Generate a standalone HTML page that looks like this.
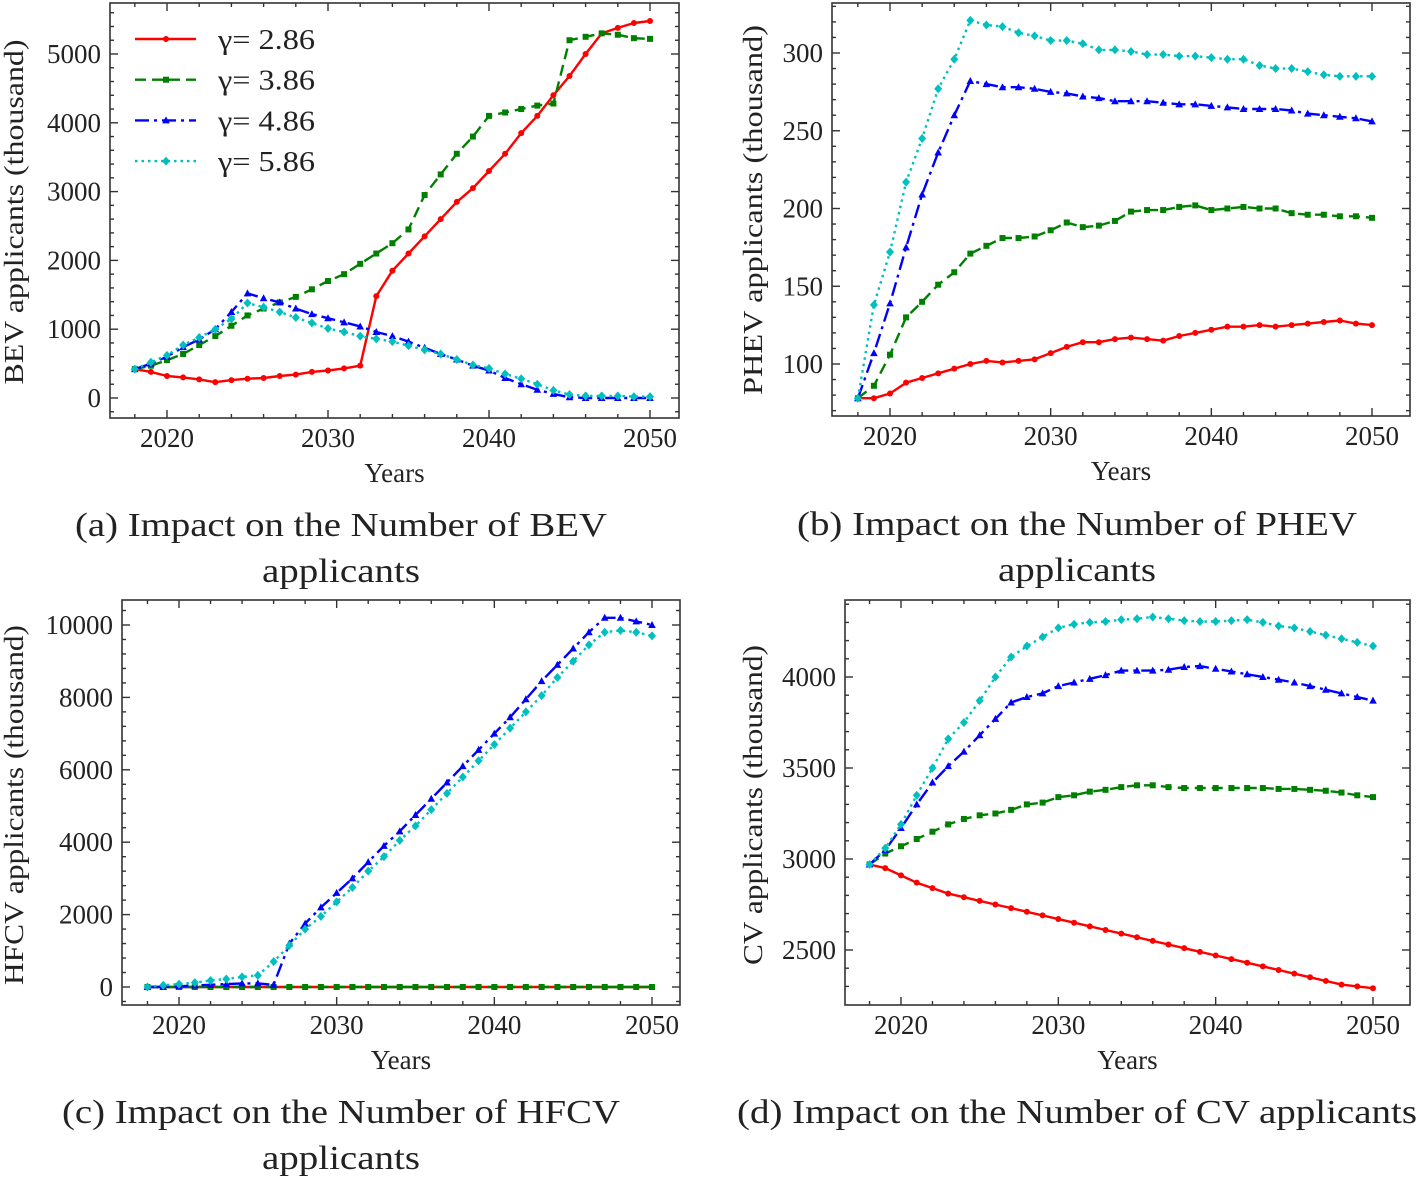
<!DOCTYPE html>
<html><head><meta charset="utf-8"><style>
html,body{margin:0;padding:0;background:#fff;}
svg text{font-family:"Liberation Serif",serif;fill:#222;}
</style></head><body>
<svg id="fig" width="1417" height="1177" viewBox="0 0 1417 1177" xmlns="http://www.w3.org/2000/svg"></svg>
<script>
const years = [];
for (let y = 2018; y <= 2050; y++) years.push(y);
const seriesLabels = ["γ= 2.86","γ= 3.86","γ= 4.86","γ= 5.86"];

const bevRed   = [420,380,320,300,270,230,260,280,290,320,340,380,400,430,470,1480,1850,2100,2350,2600,2850,3050,3300,3550,3850,4100,4400,4680,5000,5300,5380,5450,5480];
const bevGreen = [420,470,550,640,770,900,1050,1200,1300,1390,1470,1580,1700,1800,1950,2100,2250,2450,2950,3250,3550,3800,4100,4150,4200,4250,4280,5200,5250,5300,5280,5230,5220];
const bevBlue  = [420,500,600,740,850,1000,1250,1520,1450,1390,1300,1220,1160,1100,1040,960,900,820,730,640,560,470,400,290,200,120,60,10,0,0,0,0,0];
const bevCyan  = [420,520,620,770,880,1000,1150,1380,1320,1250,1170,1090,1010,960,900,860,820,760,700,640,560,480,430,350,280,200,110,50,30,30,30,20,20];

const phevRed   = [78,78,81,88,91,94,97,100,102,101,102,103,107,111,114,114,116,117,116,115,118,120,122,124,124,125,124,125,126,127,128,126,125];
const phevGreen = [78,86,106,130,140,151,159,171,176,181,181,182,186,191,188,189,192,198,199,199,201,202,199,200,201,200,200,197,196,196,195,195,194];
const phevBlue  = [78,107,139,175,209,236,260,282,280,278,278,277,275,274,272,271,269,269,269,268,267,267,266,265,264,264,264,263,261,260,259,258,256];
const phevCyan  = [78,138,172,217,245,277,296,321,318,317,313,311,308,308,306,302,302,301,299,299,298,298,297,296,296,292,290,290,288,286,285,285,285];

const hfcvRed   = [0,0,0,0,0,0,0,0,0,0,0,0,0,0,0,0,0,0,0,0,0,0,0,0,0,0,0,0,0,0,0,0,0];
const hfcvGreen = [0,0,0,0,0,0,0,0,0,0,0,0,0,0,0,0,0,0,0,0,0,0,0,0,0,0,0,0,0,0,0,0,0];
const hfcvBlue  = [0,0,20,40,60,80,100,100,60,1200,1750,2200,2600,3000,3450,3900,4300,4750,5200,5650,6100,6550,7000,7450,7950,8450,8900,9350,9800,10200,10200,10100,10000];
const hfcvCyan  = [0,50,80,120,180,220,280,320,700,1150,1600,1950,2350,2750,3200,3600,4050,4450,4900,5350,5800,6250,6700,7150,7600,8050,8550,9000,9450,9800,9850,9800,9700];

const cvRed   = [2970,2950,2910,2870,2840,2810,2790,2770,2750,2730,2710,2690,2670,2650,2630,2610,2590,2570,2550,2530,2510,2490,2470,2450,2430,2410,2390,2370,2350,2330,2310,2300,2290];
const cvGreen = [2970,3030,3070,3110,3150,3190,3220,3240,3250,3270,3300,3310,3340,3350,3370,3380,3395,3405,3405,3395,3390,3390,3390,3390,3390,3390,3385,3385,3380,3375,3365,3350,3340];
const cvBlue  = [2970,3050,3170,3300,3420,3510,3590,3680,3770,3860,3890,3910,3950,3970,3990,4010,4035,4035,4035,4040,4055,4060,4045,4030,4015,4000,3985,3970,3950,3930,3910,3890,3870];
const cvCyan  = [2970,3060,3190,3350,3500,3660,3750,3870,4000,4110,4170,4220,4270,4290,4300,4305,4315,4320,4330,4320,4310,4305,4305,4310,4315,4300,4280,4270,4250,4230,4210,4190,4170];

const bevTicks  = [0,1000,2000,3000,4000,5000];
const phevTicks = [100,150,200,250,300];
const hfcvTicks = [0,2000,4000,6000,8000,10000];
const cvTicks   = [2500,3000,3500,4000];
const xTicks    = [2020,2030,2040,2050];

const NS = "http://www.w3.org/2000/svg";
const svg = document.getElementById("fig");
function mk(tag, attrs, parent){ const e=document.createElementNS(NS,tag); for(const k in attrs) e.setAttribute(k,attrs[k]); (parent||svg).appendChild(e); return e; }

const styles = [
 {color:"#ff0000", dash:"", marker:"circle"},
 {color:"#008000", dash:"11,6", marker:"square"},
 {color:"#0000ff", dash:"14,5,3,5", marker:"tri"},
 {color:"#00bfbf", dash:"2.5,4", marker:"diamond"}
];
const names = ["gamma-2-86","gamma-3-86","gamma-4-86","gamma-5-86"];

function marker(g, kind, x, y, color){
  let m;
  if(kind==="circle") m=mk("circle",{cx:x,cy:y,r:3,fill:color},g);
  else if(kind==="square") m=mk("rect",{x:x-3,y:y-3,width:6,height:6,fill:color},g);
  else if(kind==="tri") m=mk("polygon",{points:`${x},${y-4} ${x-3.8},${y+3} ${x+3.8},${y+3}`,fill:color},g);
  else m=mk("polygon",{points:`${x},${y-4.5} ${x+4},${y} ${x},${y+4.5} ${x-4},${y}`,fill:color},g);
  
  
}

function panel(p){
  const g = mk("g",{});
  
  
  const [L,T,R,B] = p.box;
  const xs = v => p.x0 + (v-2020)*(p.x1-p.x0)/30;
  const ys = v => p.py0 + (v-p.v0)*(p.py1-p.py0)/(p.v1-p.v0);
  p.series.forEach((vals,i)=>{
    const s=styles[i];
    const sg = mk("g",{},g);
    
    
    const pts = vals.map((v,j)=>`${xs(years[j]).toFixed(1)},${ys(v).toFixed(1)}`).join(" ");
    const pl = mk("polyline",{points:pts,fill:"none",stroke:s.color,"stroke-width":2.4,"stroke-dasharray":s.dash,"stroke-linejoin":"round"},sg);
    
    
    vals.forEach((v,j)=>marker(sg,s.marker,xs(years[j]),ys(v),s.color));
  });
  const box = mk("rect",{x:L,y:T,width:R-L,height:B-T,fill:"none",stroke:"#333","stroke-width":1.6},g);
  
  
  for(let yr=2018; yr<=2050; yr+=2){
    const x=xs(yr), maj = yr%10===0;
    const len = maj?8:4;
    mk("line",{x1:x,y1:B,x2:x,y2:B-len,stroke:"#333","stroke-width":1.4},g);
    mk("line",{x1:x,y1:T,x2:x,y2:T+len,stroke:"#333","stroke-width":1.4},g);
  }
  xTicks.forEach(t=>{
    const tx = mk("text",{x:xs(t),y:B+29,"font-size":27,"text-anchor":"middle"},g);
    tx.textContent=t;
    
    
  });
  const step = p.ticks[1]-p.ticks[0], minor = step/p.minorN;
  for(let v=p.ticks[0]-step; v<=p.ticks[p.ticks.length-1]+step; v+=minor){
    const y=ys(v); if(y<T+1||y>B-1) continue;
    const maj = Math.abs(((v-p.ticks[0])/step)-Math.round((v-p.ticks[0])/step))<1e-6;
    const len = maj?8:4;
    mk("line",{x1:L,y1:y,x2:L+len,y2:y,stroke:"#333","stroke-width":1.4},g);
    mk("line",{x1:R,y1:y,x2:R-len,y2:y,stroke:"#333","stroke-width":1.4},g);
  }
  p.ticks.forEach(t=>{
    const tx = mk("text",{x:L-9,y:ys(t)+9,"font-size":27,"text-anchor":"end"},g);
    tx.textContent=t;
    
    
  });
  const xt = mk("text",{x:(L+R)/2,y:B+64,"font-size":27,"text-anchor":"middle"},g);
  xt.textContent="Years";
  
  
  const yt = mk("text",{x:0,y:0,"font-size":27,"text-anchor":"middle",textLength:p.ylen,lengthAdjust:"spacingAndGlyphs",transform:`translate(${p.ylx},${p.ylc}) rotate(-90)`},g);
  yt.textContent=p.ylabel;
  
  
  p.caption.forEach((line,i)=>{
    const c = mk("text",{x:p.capx,y:p.capy+i*46,"font-size":34,"text-anchor":"middle",textLength:p.caplen[i],lengthAdjust:"spacingAndGlyphs"},g);
    c.textContent=line;
    
    
  });
  return g;
}

panel({name:"bev-chart",prefix:"bev",box:[110,3,679,418],x0:167,x1:650,v0:0,v1:5000,py0:398,py1:54,ticks:bevTicks,minorN:5,
  series:[bevRed,bevGreen,bevBlue,bevCyan],ylabel:"BEV applicants (thousand)",ylx:23,ylc:212,ylen:345,
  caption:["(a) Impact on the Number of BEV","applicants"],caplen:[532,158],capx:341,capy:536});
panel({name:"phev-chart",prefix:"phev",box:[832,3,1410,416],x0:890,x1:1372,v0:100,v1:300,py0:364,py1:53,ticks:phevTicks,minorN:5,
  series:[phevRed,phevGreen,phevBlue,phevCyan],ylabel:"PHEV applicants (thousand)",ylx:762,ylc:210,ylen:370,
  caption:["(b) Impact on the Number of PHEV","applicants"],caplen:[560,158],capx:1077,capy:535});
panel({name:"hfcv-chart",prefix:"hfcv",box:[122,600,680,1005],x0:179,x1:652,v0:0,v1:10000,py0:987,py1:625,ticks:hfcvTicks,minorN:5,
  series:[hfcvRed,hfcvGreen,hfcvBlue,hfcvCyan],ylabel:"HFCV applicants (thousand)",ylx:23,ylc:805,ylen:360,
  caption:["(c) Impact on the Number of HFCV","applicants"],caplen:[558,158],capx:341,capy:1123});
panel({name:"cv-chart",prefix:"cv",box:[845,600,1410,1005],x0:901,x1:1373,v0:2500,v1:4000,py0:950,py1:677,ticks:cvTicks,minorN:5,
  series:[cvRed,cvGreen,cvBlue,cvCyan],ylabel:"CV applicants (thousand)",ylx:762,ylc:805,ylen:320,
  caption:["(d) Impact on the Number of CV applicants"],caplen:[680],capx:1077,capy:1123});

const lg = mk("g",{});


seriesLabels.forEach((lab,i)=>{
  const y = 39 + i*40.7;
  const s = styles[i];
  const e = mk("g",{},lg);
  
  
  mk("line",{x1:135,y1:y,x2:196,y2:y,stroke:s.color,"stroke-width":2.4,"stroke-dasharray":s.dash},e);
  marker(e,s.marker,166,y,s.color);
  const t = mk("text",{x:218,y:y+10,"font-size":29,textLength:97,lengthAdjust:"spacingAndGlyphs"},e);
  t.textContent = lab;
  
  
});
</script>
</body></html>
